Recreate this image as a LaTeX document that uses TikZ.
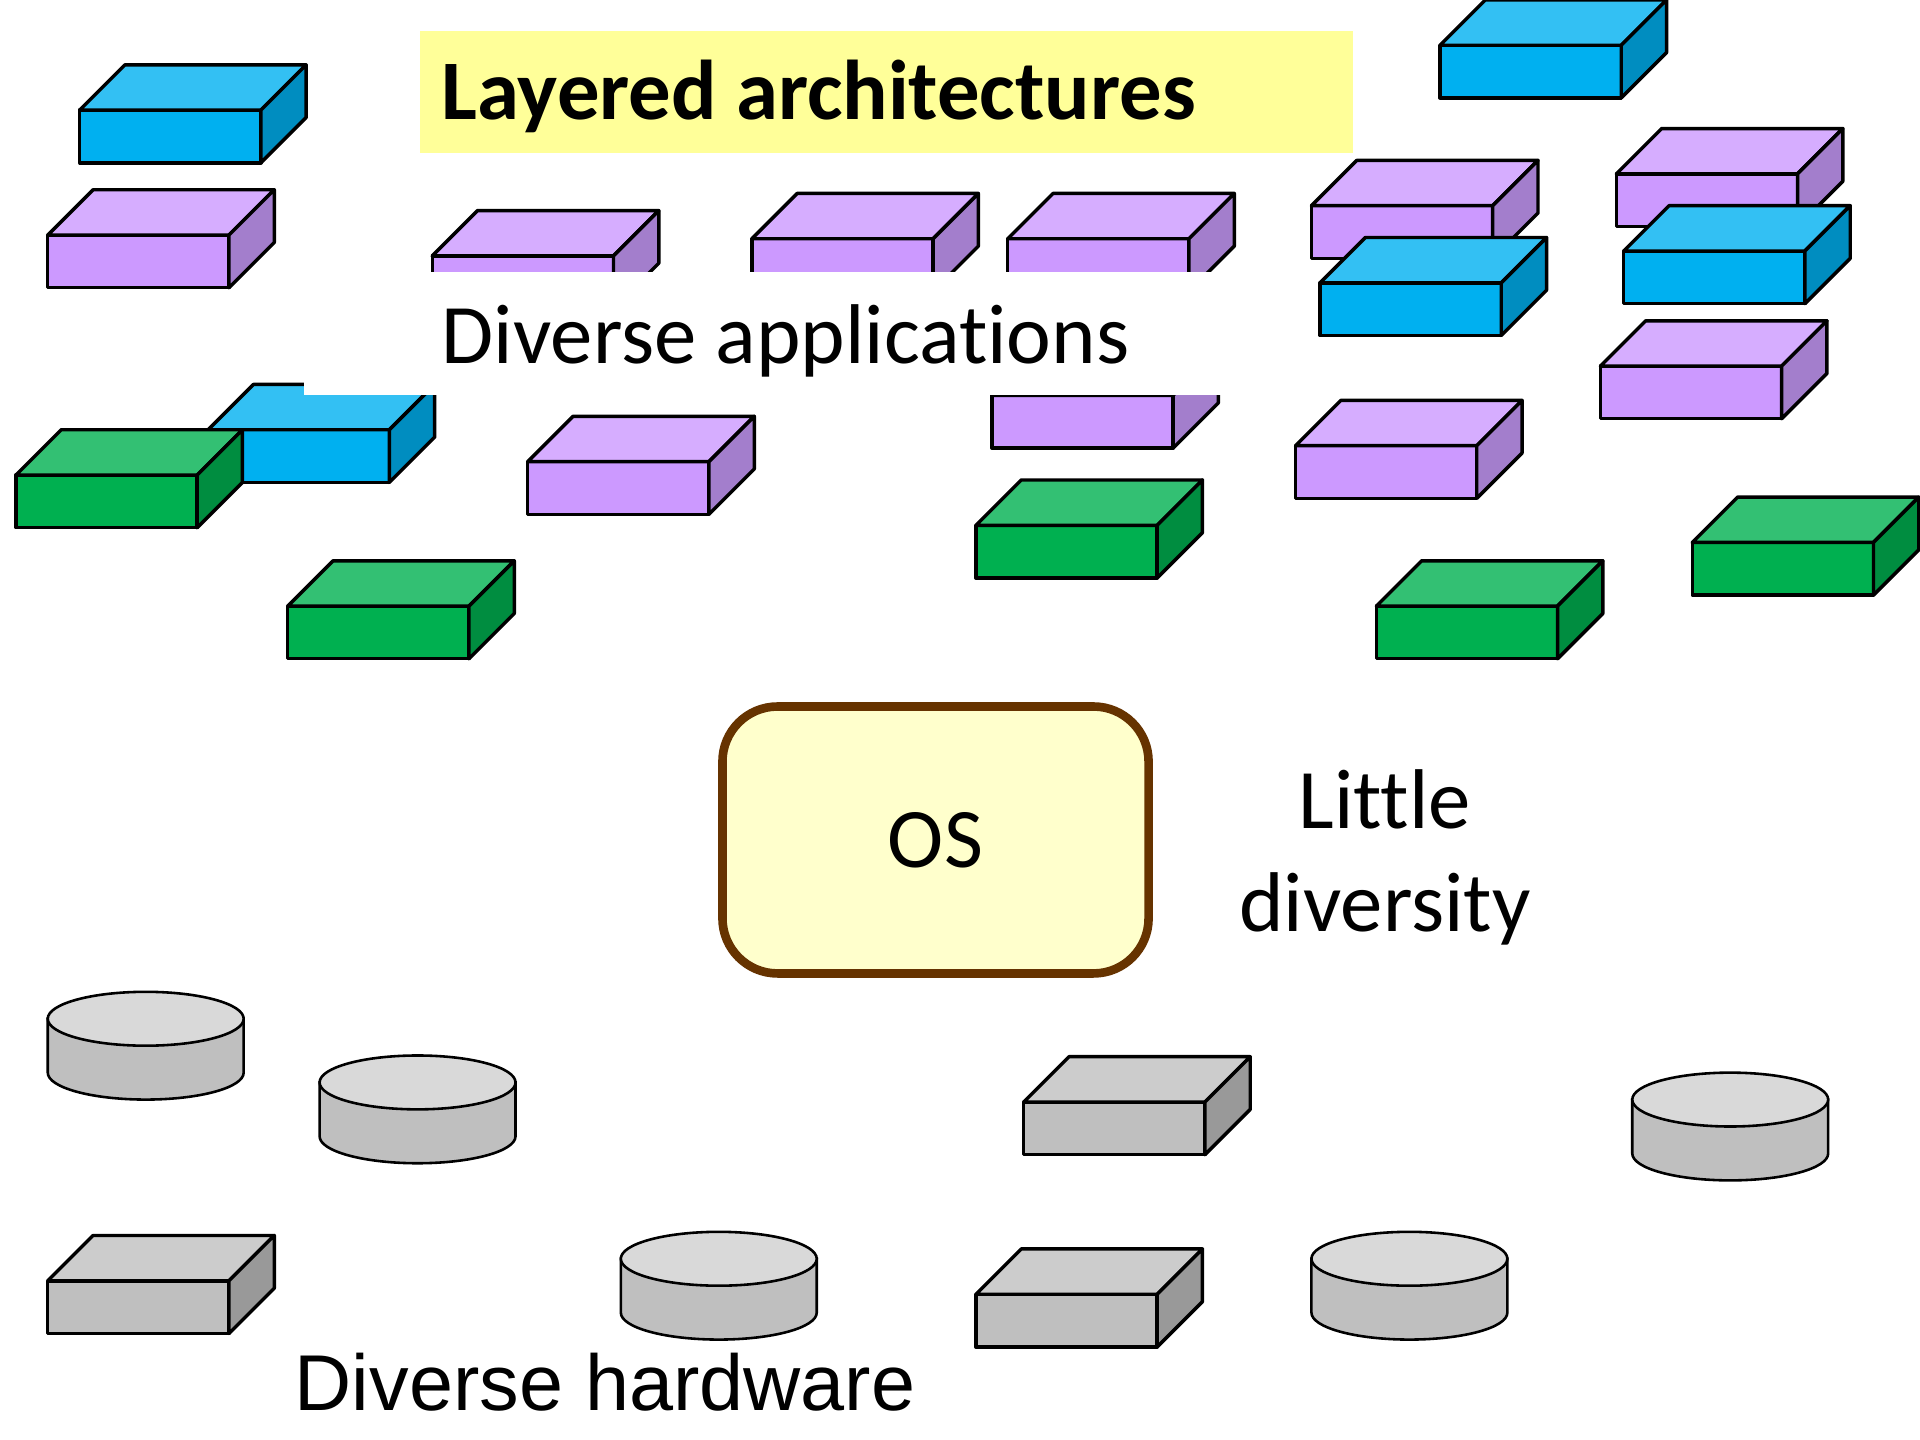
\documentclass[tikz,border=0pt]{standalone}
\usepackage{fontspec}
\setmainfont{Carlito}[Ligatures=NoCommon]
\newfontfamily\hwfont{Liberation Sans}
\usepackage{tikz}

\definecolor{purplefront}{HTML}{CC99FF}
\definecolor{purpletop}{HTML}{D6ADFF}
\definecolor{purpleside}{HTML}{A37ECC}
\definecolor{bluefront}{HTML}{00B0F0}
\definecolor{bluetop}{HTML}{33C0F3}
\definecolor{blueside}{HTML}{008DC0}
\definecolor{greenfront}{HTML}{00B050}
\definecolor{greentop}{HTML}{33C073}
\definecolor{greenside}{HTML}{008D40}
\definecolor{grayfront}{HTML}{BFBFBF}
\definecolor{graytop}{HTML}{CCCCCC}
\definecolor{grayside}{HTML}{999999}
\definecolor{disctop}{HTML}{D9D9D9}
\definecolor{discside}{HTML}{BFBFBF}
\definecolor{titlefill}{HTML}{FFFF99}
\definecolor{osfill}{HTML}{FFFFCC}
\definecolor{osline}{HTML}{663300}

\tikzset{
  edge/.style={draw=black, line width=0.8pt, line join=round},
  thinedge/.style={draw=black, line width=0.6pt},
  label/.style={inner sep=0pt, font=\fontsize{19.7}{24}\selectfont}
}

% box: front bottom-left corner, colour prefix
\def\slab(#1,#2)#3{%
  \draw[edge,fill=#3front] (#1,#2) rectangle ++(1.48,0.43);
  \draw[edge,fill=#3top] (#1,#2+0.43) -- ++(0.37,0.37) -- ++(1.48,0) -- ++(-0.37,-0.37) -- cycle;
  \draw[edge,fill=#3side] (#1+1.48,#2) -- ++(0.37,0.37) -- ++(0,0.43) -- ++(-0.37,-0.37) -- cycle;
}
% disc: left end of top ellipse
\def\disc(#1,#2){%
  \draw[thinedge,fill=discside] (#1,#2) -- (#1,#2-0.44) arc (180:360:0.8 and 0.22) -- (#1+1.6,#2) -- cycle;
  \draw[thinedge,fill=disctop] (#1+0.8,#2) ellipse (0.8 and 0.22);
}

\begin{document}
\begin{tikzpicture}
		%%%%% START %%%%%
		\useasboundingbox (0, 0) rectangle (15.68, 11.76);
		
		\fill[titlefill] (3.43, 10.51) rectangle (11.05, 11.51);
		\node[label, anchor=base west, font=\fontsize{19.7}{24}\selectfont\bfseries] (title) at (3.60, 10.78) {Layered architectures};
		
		\slab(0.65,10.43){blue}
		\slab(11.76,10.96){blue}
		\slab(0.39,9.41){purple}
		\slab(3.53,9.24){purple}
		\slab(6.14,9.38){purple}
		\slab(8.23,9.38){purple}
		\slab(10.71,9.65){purple}
		\slab(10.78,9.02){blue}
		\slab(13.20,9.91){purple}
		\slab(13.26,9.28){blue}
		\slab(13.07,8.34){purple}
		\slab(1.70,7.82){blue}
		\slab(0.13,7.45){green}
		\slab(4.31,7.56){purple}
		\slab(8.10,8.10){purple}
		\slab(10.58,7.69){purple}
		\slab(2.35,6.38){green}
		\slab(7.97,7.04){green}
		\slab(11.24,6.38){green}
		\slab(13.82,6.90){green}
		
		\fill[white] (2.48, 8.53) rectangle (10.50, 9.54);
		\node[label, anchor=base west] (apps) at (3.60, 8.79) {Diverse applications};
		
		\node[label, draw=osline, line width=2pt, fill=osfill, rounded corners=0.45cm,
		      minimum width=3.48cm, minimum height=2.18cm] (os) at (7.64, 4.90) {OS};
		\node[label, align=center] (little) at (11.31, 4.76) {Little\\diversity};
		
		\disc(0.39,3.44)
		\disc(2.61,2.92)
		\disc(5.07,1.48)
		\disc(10.71,1.48)
		\disc(13.33,2.78)
		\slab(0.39,0.87){gray}
		\slab(8.36,2.33){gray}
		\slab(7.97,0.76){gray}
		
		\node[inner sep=0pt, anchor=base west, font=\hwfont\fontsize{18.4}{22}\selectfont] (hw) at (2.40, 0.24) {Diverse hardware};
		%%%%% END %%%%%
\end{tikzpicture}
\end{document}
